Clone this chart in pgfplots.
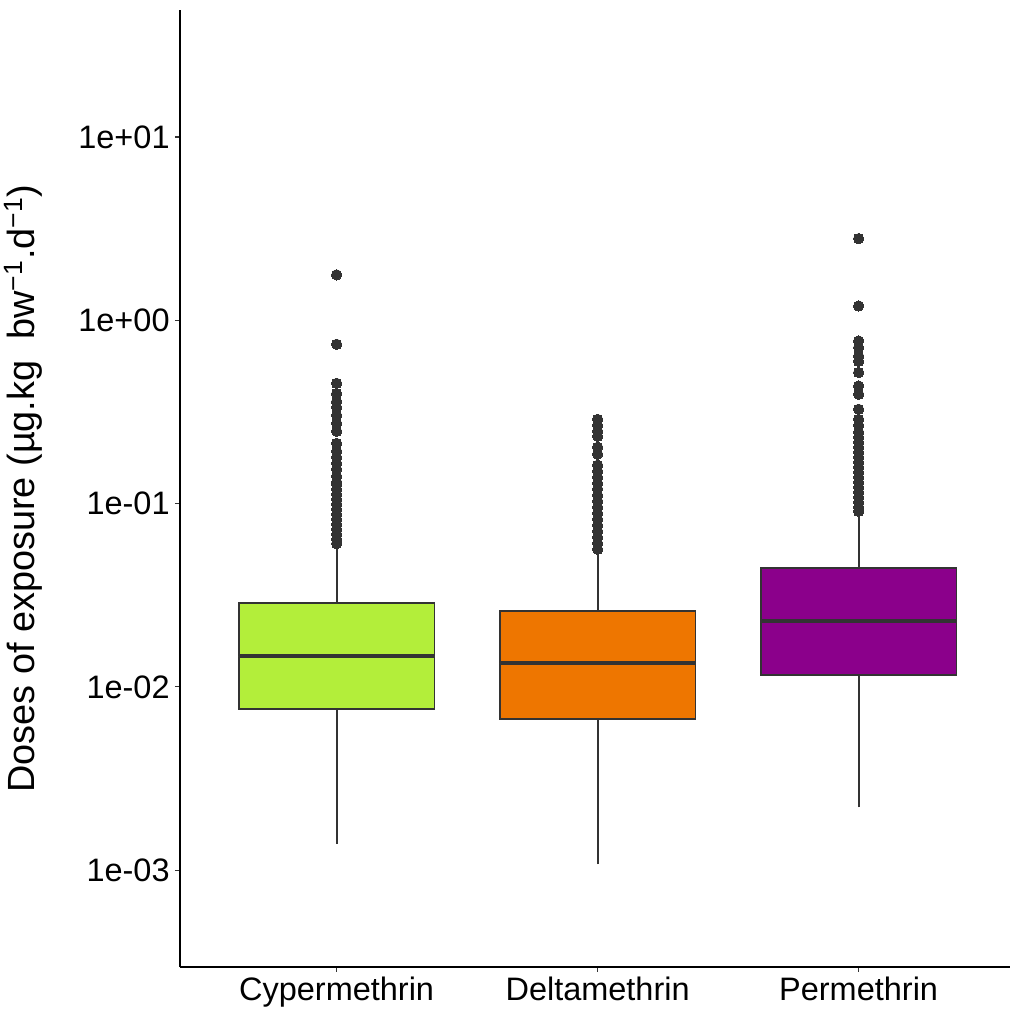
\documentclass[border=0pt]{standalone}
\usepackage{pgfplots}
\pgfplotsset{compat=1.18}
\usepgfplotslibrary{statistics}
\usepackage{fontspec}
\setmainfont{Liberation Sans}
\definecolor{c333}{HTML}{333333}
\definecolor{cyp}{HTML}{B3EE3A}
\definecolor{del}{HTML}{EE7600}
\definecolor{per}{HTML}{8B008B}
\begin{document}
\begin{tikzpicture}
\begin{axis}[
  scale only axis, width=415bp, height=478.5bp,
  xmin=0.4, xmax=3.58,
  ymode=log, ymin=0.000296, ymax=49.3,
  axis x line*=bottom, axis y line*=left,
  axis line style={black, line width=0.6bp},
  xtick={1,2,3}, xticklabels={Cypermethrin,Deltamethrin,Permethrin},
  ytick={0.001,0.01,0.1,1,10},
  yticklabels={1e-03,1e-02,1e-01,1e+00,1e+01},
  yminorticks=false, xminorticks=false,
  tick align=outside, major tick length=2.5bp,
  tick style={c333, line width=0.6bp},
  tick label style={font=\fontsize{16.3}{19}\selectfont, black, inner sep=2.5bp},
  ylabel={Doses of exposure (µg.kg\ \ bw\textsuperscript{−1}.d\textsuperscript{−1})},
  ylabel style={at={(axis description cs:-0.1747,0.5)}, anchor=base,
    font=\fontsize{19}{23}\selectfont, black},
  boxplot/draw direction=y,
  boxplot/box extend=0.75,
  boxplot/whisker extend=0,
  boxplot/every median/.style={line width=2bp},
]
\addplot[boxplot prepared={lower whisker=0.001384, lower quartile=0.00755, median=0.01469,
    upper quartile=0.02858, upper whisker=0.0585, draw position=1},
  draw=c333, fill=cyp, line width=0.9bp, mark=*, mark size=2.6bp,
  mark options={fill=c333, draw=c333, line width=0pt}]
  table[row sep=\\, y index=0] {data\\
  1.77\\ 0.740\\ 0.453\\ 0.398\\ 0.360\\ 0.335\\ 0.303\\ 0.274\\ 0.248\\ 0.213\\
  0.193\\ 0.179\\ 0.166\\ 0.154\\ 0.141\\ 0.131\\ 0.1196\\ 0.1123\\ 0.1055\\ 0.0991\\
  0.0931\\ 0.0874\\ 0.0821\\ 0.0771\\ 0.0724\\ 0.0681\\ 0.0638\\ 0.0605\\ 0.1274\\ 0.0995\\
  };
\addplot[boxplot prepared={lower whisker=0.001076, lower quartile=0.00666, median=0.01345,
    upper quartile=0.0258, upper whisker=0.0531, draw position=2},
  draw=c333, fill=del, line width=0.9bp, mark=*, mark size=2.6bp,
  mark options={fill=c333, draw=c333, line width=0pt}]
  table[row sep=\\, y index=0] {data\\
  0.288\\ 0.267\\ 0.248\\ 0.233\\ 0.203\\ 0.186\\ 0.162\\ 0.150\\ 0.139\\ 0.129\\
  0.120\\ 0.111\\ 0.103\\ 0.0955\\ 0.0885\\ 0.0821\\ 0.0761\\ 0.0706\\ 0.0655\\ 0.0607\\
  0.0563\\
  };
\addplot[boxplot prepared={lower whisker=0.0022, lower quartile=0.01157, median=0.0228,
    upper quartile=0.0444, upper whisker=0.0874, draw position=3},
  draw=c333, fill=per, line width=0.9bp, mark=*, mark size=2.6bp,
  mark options={fill=c333, draw=c333, line width=0pt}]
  table[row sep=\\, y index=0] {data\\
  2.79\\ 1.197\\ 0.771\\ 0.710\\ 0.638\\ 0.597\\ 0.519\\ 0.438\\ 0.395\\ 0.327\\
  0.288\\ 0.267\\ 0.245\\ 0.230\\ 0.216\\ 0.203\\ 0.1905\\ 0.179\\ 0.168\\ 0.158\\
  0.148\\ 0.139\\ 0.1306\\ 0.1227\\ 0.1153\\ 0.1082\\ 0.1016\\ 0.0955\\ 0.0907\\
  };
\end{axis}
\pgfresetboundingbox
\path[use as bounding box] (-90bp,-22bp) rectangle (415bp,483.5bp);
\end{tikzpicture}
\end{document}
